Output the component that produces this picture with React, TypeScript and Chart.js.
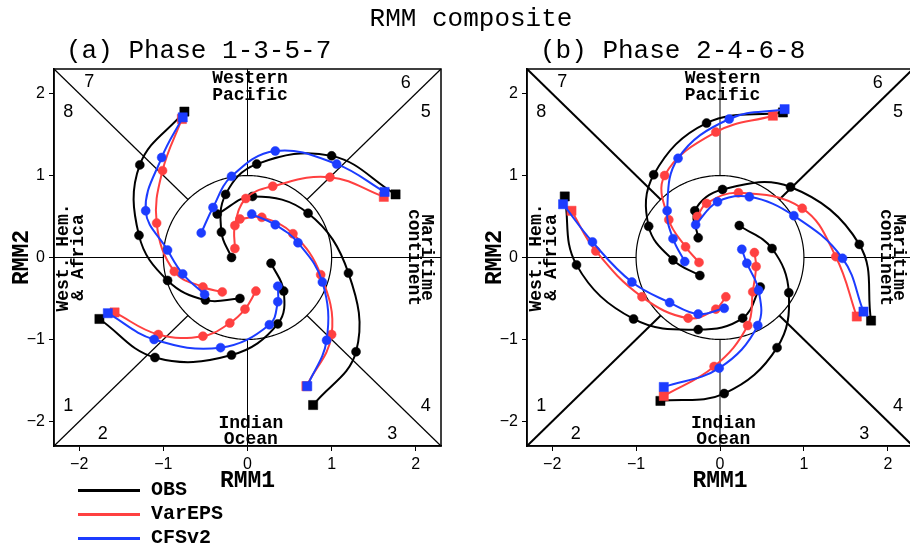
import React, { useEffect, useRef } from 'react';
import { Chart, registerables } from 'chart.js';

Chart.register(...registerables);

const MONO = '"Liberation Mono", "DejaVu Sans Mono", monospace';
const SANS = '"Liberation Sans", Arial, sans-serif';

// ---------------- data ----------------
const SERIES_NAMES = ['OBS', 'VarEPS', 'CFSv2'];
const SERIES_COLORS = ['#000000', '#ff4040', '#1c3cff'];

const AXIS_LIMIT = 2.3;
const TICK_VALUES = [-2, -1, 0, 1, 2];
const TICK_LABELS = ['−2', '−1', '0', '1', '2'];

const MAIN_TITLE = 'RMM composite';
const PANEL_TITLES = ['(a) Phase 1-3-5-7', '(b) Phase 2-4-6-8'];
const X_TITLE = 'RMM1';
const Y_TITLE = 'RMM2';
const PHASE_NUMBERS = ['1', '2', '3', '4', '5', '6', '7', '8'];
const REGION_TOP = ['Western', 'Pacific'];
const REGION_BOTTOM = ['Indian', 'Ocean'];
const REGION_LEFT = ['West. Hem.', '& Africa'];
const REGION_RIGHT = ['Maritime', 'continent'];

// Panel (a) — tracks starting in phases 1, 3, 5, 7 ; points are [RMM1, RMM2], first = initial day
const A_OBS_P1 = [[-1.76, -0.75], [-1.10, -1.22], [-0.19, -1.19], [0.36, -0.81], [0.43, -0.41], [0.28, -0.07]];
const A_OBS_P3 = [[0.78, -1.80], [1.29, -1.15], [1.20, -0.19], [0.72, 0.54], [0.06, 0.745], [-0.36, 0.53]];
const A_OBS_P5 = [[1.76, 0.77], [1.00, 1.24], [0.11, 1.14], [-0.26, 0.77], [-0.31, 0.31], [-0.19, 0.0]];
const A_OBS_P7 = [[-0.75, 1.78], [-1.28, 1.13], [-1.29, 0.27], [-0.95, -0.28], [-0.50, -0.52], [-0.09, -0.50]];

const A_VAR_P1 = [[-1.58, -0.67], [-1.06, -0.94], [-0.53, -0.96], [-0.21, -0.80], [-0.03, -0.63], [0.10, -0.41]];
const A_VAR_P3 = [[0.70, -1.57], [1.00, -0.94], [0.87, -0.21], [0.54, 0.29], [0.17, 0.49], [-0.09, 0.47]];
const A_VAR_P5 = [[1.62, 0.74], [0.98, 0.98], [0.30, 0.87], [-0.02, 0.72], [-0.15, 0.39], [-0.15, 0.11]];
const A_VAR_P7 = [[-0.78, 1.69], [-1.01, 1.06], [-1.08, 0.42], [-0.87, -0.17], [-0.53, -0.36], [-0.30, -0.42]];

const A_CFS_P1 = [[-1.66, -0.68], [-1.11, -1.00], [-0.32, -1.10], [0.26, -0.82], [0.36, -0.54], [0.36, -0.35]];
const A_CFS_P3 = [[0.71, -1.57], [0.94, -1.01], [0.89, -0.30], [0.60, 0.18], [0.33, 0.40], [0.05, 0.53]];
const A_CFS_P5 = [[1.63, 0.80], [1.06, 1.14], [0.33, 1.30], [-0.19, 0.99], [-0.41, 0.61], [-0.55, 0.30]];
const A_CFS_P7 = [[-0.77, 1.71], [-1.02, 1.22], [-1.21, 0.57], [-0.95, 0.09], [-0.77, -0.20], [-0.51, -0.45]];

// Panel (b) — tracks starting in phases 2, 4, 6, 8
const B_OBS_P2 = [[-0.71, -1.75], [0.05, -1.66], [0.68, -1.10], [0.82, -0.43], [0.62, 0.11], [0.23, 0.39]];
const B_OBS_P4 = [[1.80, -0.77], [1.66, 0.16], [0.84, 0.86], [0.03, 0.83], [-0.30, 0.57], [-0.26, 0.24]];
const B_OBS_P6 = [[0.75, 1.77], [-0.16, 1.64], [-0.79, 1.01], [-0.85, 0.38], [-0.56, -0.03], [-0.24, -0.22]];
const B_OBS_P8 = [[-1.85, 0.745], [-1.71, -0.09], [-1.03, -0.75], [-0.26, -0.88], [0.27, -0.74], [0.48, -0.36]];

const B_VAR_P2 = [[-0.67, -1.69], [-0.07, -1.33], [0.33, -0.83], [0.39, -0.42], [0.43, -0.11], [0.41, 0.06]];
const B_VAR_P4 = [[1.63, -0.72], [1.38, 0.01], [0.98, 0.60], [0.22, 0.79], [-0.16, 0.66], [-0.27, 0.50]];
const B_VAR_P6 = [[0.63, 1.73], [-0.05, 1.53], [-0.66, 1.00], [-0.61, 0.46], [-0.41, 0.13], [-0.25, -0.06]];
const B_VAR_P8 = [[-1.77, 0.57], [-1.48, 0.08], [-0.93, -0.48], [-0.38, -0.74], [-0.05, -0.63], [0.07, -0.48]];

const B_CFS_P2 = [[-0.67, -1.58], [-0.01, -1.35], [0.45, -0.83], [0.46, -0.40], [0.32, -0.07], [0.26, 0.10]];
const B_CFS_P4 = [[1.71, -0.66], [1.46, -0.01], [0.88, 0.51], [0.35, 0.74], [-0.03, 0.68], [-0.29, 0.40]];
const B_CFS_P6 = [[0.77, 1.81], [0.11, 1.69], [-0.50, 1.21], [-0.63, 0.57], [-0.56, 0.23], [-0.42, -0.05]];
const B_CFS_P8 = [[-1.87, 0.65], [-1.52, 0.19], [-1.05, -0.30], [-0.60, -0.55], [-0.26, -0.69], [0.05, -0.62]];

const PANEL_A_TRACKS = [
  [A_OBS_P1, A_OBS_P3, A_OBS_P5, A_OBS_P7],
  [A_VAR_P1, A_VAR_P3, A_VAR_P5, A_VAR_P7],
  [A_CFS_P1, A_CFS_P3, A_CFS_P5, A_CFS_P7],
];
const PANEL_B_TRACKS = [
  [B_OBS_P2, B_OBS_P4, B_OBS_P6, B_OBS_P8],
  [B_VAR_P2, B_VAR_P4, B_VAR_P6, B_VAR_P8],
  [B_CFS_P2, B_CFS_P4, B_CFS_P6, B_CFS_P8],
];

// annotation anchor positions (in RMM units)
const PHASE_NUMBER_POS = [
  [-2.13, -1.81], [-1.72, -2.16], [1.72, -2.16], [2.12, -1.81],
  [2.12, 1.77], [1.88, 2.13], [-1.88, 2.14], [-2.13, 1.77],
];

// ---------------- plugin ----------------
const decorPlugin = {
  id: 'decor',
  beforeDatasetsDraw(chart: any, _args: any, opts: any) {
    const { ctx, chartArea: a, scales } = chart;
    const X = (v: number) => scales.x.getPixelForValue(v);
    const Y = (v: number) => scales.y.getPixelForValue(v);
    const L = AXIS_LIMIT;
    const seg = (x1: number, y1: number, x2: number, y2: number) => {
      ctx.beginPath();
      ctx.moveTo(x1, y1);
      ctx.lineTo(x2, y2);
      ctx.stroke();
    };
    ctx.save();
    ctx.strokeStyle = '#000';
    ctx.lineCap = 'butt';
    // unit circle
    ctx.lineWidth = 1.2;
    ctx.beginPath();
    for (let i = 0; i <= 360; i++) {
      const t = (i / 360) * 2 * Math.PI;
      const px = X(Math.cos(t));
      const py = Y(Math.sin(t));
      if (i === 0) ctx.moveTo(px, py);
      else ctx.lineTo(px, py);
    }
    ctx.closePath();
    ctx.stroke();
    // axis segments outside circle
    ctx.lineWidth = 1;
    seg(X(-L), Y(0), X(-1), Y(0));
    seg(X(1), Y(0), X(L), Y(0));
    seg(X(0), Y(L), X(0), Y(1));
    seg(X(0), Y(-1), X(0), Y(-L));
    // diagonals
    ctx.lineWidth = opts.diagWidth || 1.2;
    const c = Math.SQRT1_2;
    [[1, 1], [-1, 1], [-1, -1], [1, -1]].forEach(([sx, sy]) => {
      seg(X(sx * L), Y(sy * L), X(sx * c), Y(sy * c));
    });
    // frame
    ctx.lineWidth = 1.5;
    ctx.strokeRect(a.left, a.top, a.right - a.left, a.bottom - a.top);

    // phase numbers
    ctx.fillStyle = '#000';
    ctx.textAlign = 'center';
    ctx.textBaseline = 'middle';
    ctx.font = `18px ${SANS}`;
    PHASE_NUMBERS.forEach((t, i) => {
      const [px, py] = PHASE_NUMBER_POS[i];
      ctx.fillText(t, X(px), Y(py));
    });

    // region labels
    ctx.font = `bold 18px ${MONO}`;
    ctx.fillText(REGION_TOP[0], X(0.03), Y(2.18));
    ctx.fillText(REGION_TOP[1], X(0.03), Y(1.98));
    ctx.fillText(REGION_BOTTOM[0], X(0.04), Y(-2.02));
    ctx.fillText(REGION_BOTTOM[1], X(0.04), Y(-2.22));
    const rot = (text: string, px: number, py: number, ang: number) => {
      ctx.save();
      ctx.translate(px, py);
      ctx.rotate(ang);
      ctx.fillText(text, 0, 0);
      ctx.restore();
    };
    rot(REGION_LEFT[0], X(-2.19), Y(0), -Math.PI / 2);
    rot(REGION_LEFT[1], X(-2.01), Y(0), -Math.PI / 2);
    rot(REGION_RIGHT[0], X(2.13), Y(0), Math.PI / 2);
    rot(REGION_RIGHT[1], X(1.97), Y(0), Math.PI / 2);
    ctx.restore();
  },
  afterDraw(chart: any) {
    const { ctx, chartArea: a, scales } = chart;
    ctx.save();
    ctx.fillStyle = '#000';
    ctx.textAlign = 'center';
    ctx.textBaseline = 'middle';
    ctx.font = `bold 23px ${MONO}`;
    ctx.fillText(X_TITLE, scales.x.getPixelForValue(0), a.bottom + 35);
    ctx.translate(a.left - 32, scales.y.getPixelForValue(0));
    ctx.rotate(-Math.PI / 2);
    ctx.fillText(Y_TITLE, 0, 0);
    ctx.restore();
  },
};

// ---------------- panel ----------------
type PanelProps = {
  tracks: number[][][][];
  left: number;
  width: number;
  yAxisWidth: number;
  rightPad: number;
  diagWidth: number;
};

function Panel({ tracks, left, width, yAxisWidth, rightPad, diagWidth }: PanelProps) {
  const ref = useRef<HTMLCanvasElement>(null);
  useEffect(() => {
    if (!ref.current) return;
    const datasets: any[] = [];
    tracks.forEach((seriesTracks, s) => {
      const color = SERIES_COLORS[s];
      seriesTracks.forEach((pts, t) => {
        datasets.push({
          label: `${SERIES_NAMES[s]} ${t + 1}`,
          data: pts.map(([x, y]) => ({ x, y })),
          showLine: true,
          tension: 0.4,
          borderColor: color,
          backgroundColor: color,
          borderWidth: 2,
          pointStyle: pts.map((_, i) => (i === 0 ? 'rect' : 'circle')),
          pointRadius: pts.map((_, i) => (i === 0 ? 6.5 : 4.5)),
          pointBorderWidth: 0.5,
          pointBorderColor: color,
          pointBackgroundColor: color,
          order: 3 - s,
        });
      });
    });
    const L = AXIS_LIMIT;
    const tickCb = (v: any) => {
      const i = TICK_VALUES.indexOf(Number(v));
      return i >= 0 ? TICK_LABELS[i] : '';
    };
    const chart = new Chart(ref.current, {
      type: 'scatter',
      data: { datasets },
      plugins: [decorPlugin as any],
      options: {
        animation: false,
        responsive: false,
        devicePixelRatio: 1,
        events: [],
        layout: { padding: { top: 69, right: rightPad, left: 0, bottom: 0 } },
        plugins: {
          legend: { display: false },
          tooltip: { enabled: false },
          title: { display: false },
          decor: { diagWidth },
        } as any,
        scales: {
          x: {
            type: 'linear',
            min: -L,
            max: L,
            afterBuildTicks: (s: any) => {
              s.ticks = TICK_VALUES.map((v) => ({ value: v }));
            },
            afterFit: (s: any) => {
              s.height = 104;
            },
            ticks: {
              callback: tickCb,
              font: { family: SANS, size: 16 },
              color: '#000',
              padding: 4,
              maxRotation: 0,
              autoSkip: false,
            },
            grid: { display: true, drawOnChartArea: false, drawTicks: true, tickLength: 5, color: '#000', lineWidth: 1 },
            border: { display: true, color: '#000', width: 1.5 },
          },
          y: {
            type: 'linear',
            min: -L,
            max: L,
            afterBuildTicks: (s: any) => {
              s.ticks = TICK_VALUES.map((v) => ({ value: v }));
            },
            afterFit: (s: any) => {
              s.width = yAxisWidth;
            },
            ticks: {
              callback: tickCb,
              font: { family: SANS, size: 16 },
              color: '#000',
              padding: 4,
              autoSkip: false,
            },
            grid: { display: true, drawOnChartArea: false, drawTicks: true, tickLength: 5, color: '#000', lineWidth: 1 },
            border: { display: true, color: '#000', width: 1.5 },
          },
        },
      } as any,
    });
    return () => chart.destroy();
  }, []);
  return (
    <canvas
      ref={ref}
      width={width}
      height={550}
      style={{ position: 'absolute', left, top: 0, width, height: 550 }}
    />
  );
}

const LEGEND_Y = [490, 514, 538];

export default function App() {
  return (
    <div
      style={{
        position: 'fixed',
        left: 0,
        top: 0,
        width: 910,
        height: 550,
        overflow: 'hidden',
        background: '#fff',
      }}
    >
      <Panel tracks={PANEL_A_TRACKS} left={0} width={455} yAxisWidth={54} rightPad={14} diagWidth={1.2} />
      <Panel tracks={PANEL_B_TRACKS} left={470} width={460} yAxisWidth={57} rightPad={17} diagWidth={2} />
      <div
        style={{
          position: 'absolute',
          left: 0,
          width: 942,
          top: 6,
          textAlign: 'center',
          font: `26px/26px ${MONO}`,
          color: '#000',
          whiteSpace: 'nowrap',
        }}
      >
        {MAIN_TITLE}
      </div>
      {PANEL_TITLES.map((t, i) => (
        <div
          key={t}
          style={{
            position: 'absolute',
            left: i === 0 ? 66 : 540,
            top: 38,
            font: `26px/26px ${MONO}`,
            color: '#000',
            whiteSpace: 'nowrap',
          }}
        >
          {t}
        </div>
      ))}
      {SERIES_NAMES.map((name, i) => (
        <React.Fragment key={name}>
          <div
            style={{
              position: 'absolute',
              left: 78,
              top: LEGEND_Y[i] - 1.5,
              width: 62,
              height: 3,
              background: SERIES_COLORS[i],
            }}
          />
          <div
            style={{
              position: 'absolute',
              left: 151,
              top: LEGEND_Y[i] - 10,
              font: `bold 20px/20px ${MONO}`,
              color: '#000',
              whiteSpace: 'nowrap',
            }}
          >
            {name}
          </div>
        </React.Fragment>
      ))}
    </div>
  );
}
